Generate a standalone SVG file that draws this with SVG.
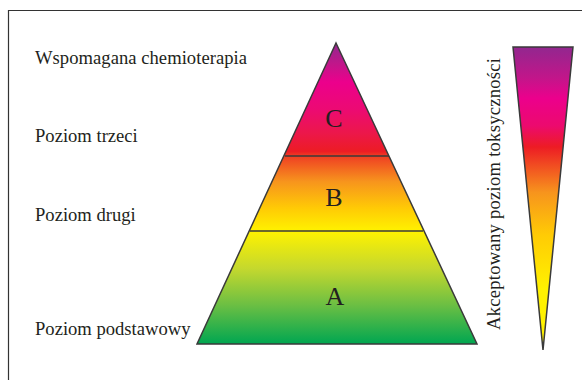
<svg xmlns="http://www.w3.org/2000/svg" width="582" height="380" viewBox="0 0 582 380">
<style>
.lbl{font-family:"Liberation Serif","Times New Roman",serif;font-size:18.6px;fill:#231f20}
.big{font-family:"Liberation Serif","Times New Roman",serif;font-size:26px;fill:#231f20;text-anchor:middle}
.edge{stroke:#3a3a3a;stroke-width:1.5;fill:none}
</style>
<defs>
<linearGradient id="gp" gradientUnits="userSpaceOnUse" x1="0" y1="43" x2="0" y2="344">
<stop offset="0" stop-color="#92278f"/>
<stop offset="0.07" stop-color="#c1168a"/>
<stop offset="0.13" stop-color="#ec008c"/>
<stop offset="0.22" stop-color="#ec0a73"/>
<stop offset="0.3" stop-color="#ec174a"/>
<stop offset="0.36" stop-color="#ed1c24"/>
<stop offset="0.375" stop-color="#ef3e23"/>
<stop offset="0.46" stop-color="#f7941d"/>
<stop offset="0.55" stop-color="#ffcb05"/>
<stop offset="0.625" stop-color="#fff200"/>
<stop offset="0.75" stop-color="#c4d82e"/>
<stop offset="0.87" stop-color="#6cbf43"/>
<stop offset="1" stop-color="#00a651"/>
</linearGradient>
<linearGradient id="gt" gradientUnits="userSpaceOnUse" x1="0" y1="47" x2="0" y2="350">
<stop offset="0" stop-color="#92278f"/>
<stop offset="0.1" stop-color="#c1168a"/>
<stop offset="0.17" stop-color="#ec008c"/>
<stop offset="0.26" stop-color="#ec0a6e"/>
<stop offset="0.33" stop-color="#ed1c24"/>
<stop offset="0.48" stop-color="#f7941d"/>
<stop offset="0.62" stop-color="#ffcb05"/>
<stop offset="0.8" stop-color="#fff200"/>
<stop offset="1" stop-color="#fff200"/>
</linearGradient>
</defs>
<g id="frame">
<path d="M8.5 385 V10.5 H590" fill="none" stroke="#333" stroke-width="1.2"/>
</g>
<g id="labels">
<text class="lbl" x="35" y="64" textLength="212">Wspomagana chemioterapia</text>
<text class="lbl" x="35" y="142">Poziom trzeci</text>
<text class="lbl" x="35" y="221">Poziom drugi</text>
<text class="lbl" x="35" y="335">Poziom podstawowy</text>
</g>
<g id="pyramid">
<polygon points="336,43 477,344 197,344" fill="url(#gp)"/>
<line class="edge" x1="285" y1="156" x2="389" y2="156"/>
<line class="edge" x1="250" y1="231" x2="423" y2="231"/>
<polygon class="edge" points="336,43 477,344 197,344"/>
</g>
<g id="level-C"><text class="big" x="334" y="127">C</text></g>
<g id="level-B"><text class="big" x="334" y="206">B</text></g>
<g id="level-A"><text class="big" x="335" y="305">A</text></g>
<g id="toxicity">
<polygon points="513,47 573,47 543,350" fill="url(#gt)" stroke="#3a3a3a" stroke-width="1.5"/>
<text class="lbl" transform="translate(500,194) rotate(-90)" text-anchor="middle" textLength="272">Akceptowany poziom toksyczności</text>
</g>
</svg>
